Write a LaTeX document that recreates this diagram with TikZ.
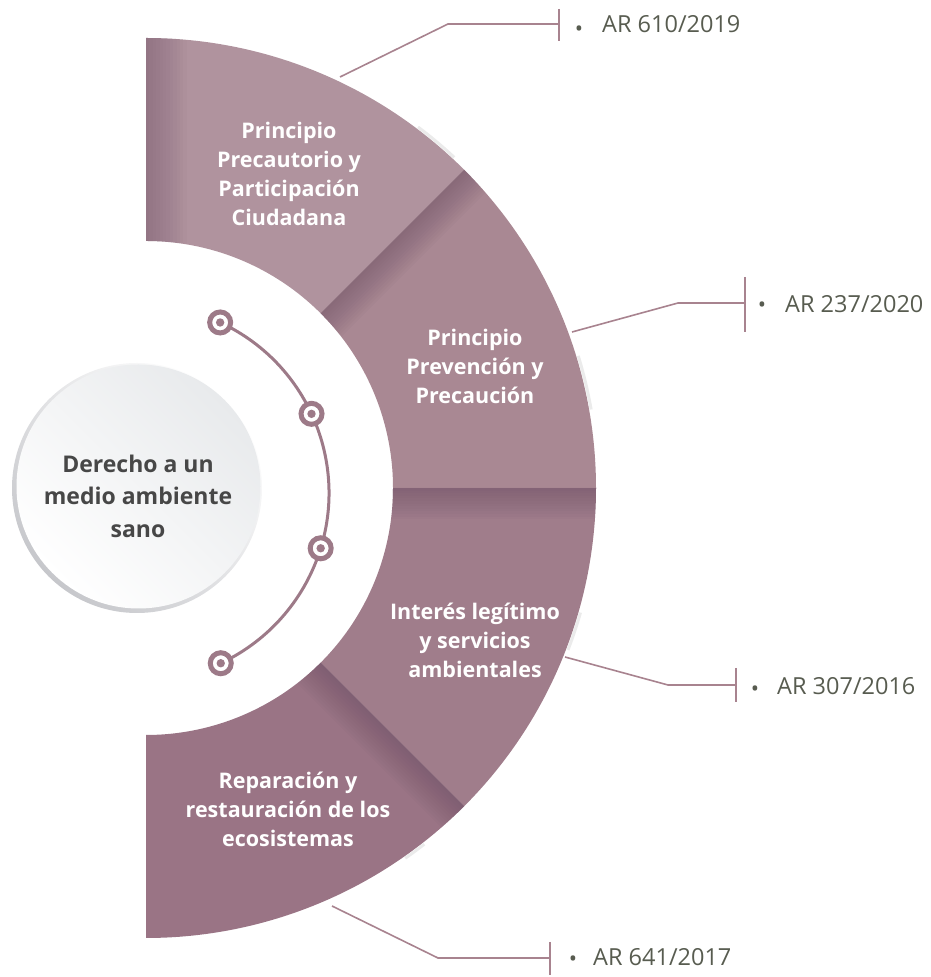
\documentclass[tikz,border=0pt]{standalone}
\usepackage{fontspec}
\setmainfont{Open Sans}
\usetikzlibrary{calc}
\definecolor{segA}{HTML}{B0939E}
\definecolor{segB}{HTML}{A98893}
\definecolor{segC}{HTML}{A07D8B}
\definecolor{segD}{HTML}{9A7485}
\definecolor{shadowdark}{HTML}{6E5066}
\definecolor{linec}{HTML}{A8838F}
\definecolor{dotc}{HTML}{9D7A88}
\definecolor{labelc}{HTML}{585C50}
\definecolor{ctext}{HTML}{474747}
\definecolor{rimgrey}{HTML}{C6C7CB}
\definecolor{innergrey}{HTML}{E8EAEC}
\newcommand\segRo{450}
\newcommand\segRi{247}
\newcommand\segpath[2]{($(C)+(#1:\segRo)$) arc[start angle=#1,end angle=#2,radius=\segRo] -- ($(C)+(#2:\segRi)$) arc[start angle=#2,end angle=#1,radius=\segRi] -- cycle}
\begin{document}
\begin{tikzpicture}[x=1pt,y=1pt,
  segtext/.style={text=white, font=\fontsize{21.5}{29}\selectfont\bfseries, align=center, inner sep=0},
  ctrtext/.style={text=ctext, font=\fontsize{23}{32.5}\selectfont\bfseries, align=center, inner sep=0},
  lab/.style={text=labelc, font=\fontsize{23.5}{28}\selectfont, anchor=base west, inner sep=0},
  bul/.style={text=labelc, font=\fontsize{22}{22}\selectfont, inner sep=0},
  calline/.style={draw=linec, line width=1.6},
  arcline/.style={draw=dotc, line width=3},
  dotring/.style={circle, draw=dotc, line width=5, fill=white, minimum size=21, inner sep=0},
  dotcore/.style={circle, fill=dotc, minimum size=8.4, inner sep=0},
  sliver/.style={draw=black!8, line width=3}]
\useasboundingbox (0,0) rectangle (930,977);
\coordinate (C) at (146,489);

% segments
\fill[segA] \segpath{90}{45};
\fill[segB] \segpath{45}{0};
\fill[segC] \segpath{0}{-45};
\fill[segD] \segpath{-45}{-90};

% inner shadows
\begin{scope}
\clip \segpath{90}{45};
\foreach \i in {1,...,12} {\fill[shadowdark, opacity=0.04] (140,480) rectangle ({146+3.4*\i},990);}
\end{scope}
\begin{scope}
\clip \segpath{45}{0};
\begin{scope}[shift={(C)}, rotate=45]
\foreach \i in {1,...,12} {\fill[shadowdark, opacity=0.05] (230,0) rectangle (470,{-2.6*\i});}
\end{scope}
\end{scope}
\begin{scope}
\clip \segpath{0}{-45};
\begin{scope}[shift={(C)}]
\foreach \i in {1,...,12} {\fill[shadowdark, opacity=0.05] (230,0) rectangle (470,{-2.6*\i});}
\end{scope}
\end{scope}
\begin{scope}
\clip \segpath{-45}{-90};
\begin{scope}[shift={(C)}, rotate=-45]
\foreach \i in {1,...,12} {\fill[shadowdark, opacity=0.05] (230,0) rectangle (470,{-2.6*\i});}
\end{scope}
\end{scope}

% outer slivers
\draw[sliver] ($(C)+(53:\segRo+2)$) arc[start angle=53,end angle=47,radius=\segRo+2];
\draw[sliver] ($(C)+(17:\segRo+2)$) arc[start angle=17,end angle=10,radius=\segRo+2];
\draw[sliver] ($(C)+(-16:\segRo+2)$) arc[start angle=-16,end angle=-21,radius=\segRo+2];
\draw[sliver] ($(C)+(-52:\segRo+2)$) arc[start angle=-52,end angle=-55,radius=\segRo+2];

% segment texts
\node[segtext] (p1) at (289,803) {Principio\\Precautorio y\\Participación\\Ciudadana};
\node[segtext] (p2) at (475,611) {Principio\\Prevención y\\Precaución};
\node[segtext] (p3) at (475,337) {Interés legítimo\\y servicios\\ambientales};
\node[segtext] (p4) at (288,168) {Reparación y\\restauración de los\\ecosistemas};

% hub circle
\coordinate (H) at (137,489);
\shade[top color=white, bottom color=rimgrey, shading angle=-45] (H) circle (125);
\shade[top color=innergrey, bottom color=white, shading angle=-45] ($(H)+(1.5,1.5)$) circle (122);
\node[ctrtext] (hub) at (138,481) {Derecho a un\\medio ambiente\\sano};

% arc with dots
\coordinate (A) at (141,484);
\coordinate (d1) at ($(A)+(65.1:188)$);
\coordinate (d2) at ($(A)+(24.9:188)$);
\coordinate (d3) at ($(A)+(-17.1:188)$);
\coordinate (d4) at ($(A)+(-64.9:188)$);
\draw[arcline] (d1) arc[start angle=65.1,end angle=-64.9,radius=188];
\foreach \d in {d1,d2,d3,d4} {
  \node[dotring] (r\d) at (\d) {};
  \node[dotcore] (c\d) at (\d) {};
}

% callouts
\coordinate (s1) at (340,900); \coordinate (b1) at (448,953); \coordinate (t1) at (559,953);
\coordinate (s2) at (572,645); \coordinate (b2) at (678,674); \coordinate (t2) at (745,674);
\coordinate (s3) at (565,320); \coordinate (b3) at (668,292); \coordinate (t3) at (736,292);
\coordinate (s4) at (332,71);  \coordinate (b4) at (438,19);  \coordinate (t4) at (550,19);
\draw[calline] (s1) -- (b1) -- (t1);
\draw[calline] (s2) -- (b2) -- (t2);
\draw[calline] (s3) -- (b3) -- (t3);
\draw[calline] (s4) -- (b4) -- (t4);
\draw[calline] ($(t1)+(0,15)$) -- ($(t1)+(0,-17)$);
\draw[calline] ($(t2)+(0,26)$) -- ($(t2)+(0,-29)$);
\draw[calline] ($(t3)+(0,17)$) -- ($(t3)+(0,-17)$);
\draw[calline] ($(t4)+(0,16)$) -- ($(t4)+(0,-17)$);

\node[bul] (u1) at (579,946) {•};
\node[bul] (u2) at (762,670) {•};
\node[bul] (u3) at (755,286) {•};
\node[bul] (u4) at (573,16) {•};
\node[lab] (l1) at (602,944) {AR 610/2019};
\node[lab] (l2) at (785,664) {AR 237/2020};
\node[lab] (l3) at (777,282) {AR 307/2016};
\node[lab] (l4) at (593,11) {AR 641/2017};
\end{tikzpicture}
\end{document}
